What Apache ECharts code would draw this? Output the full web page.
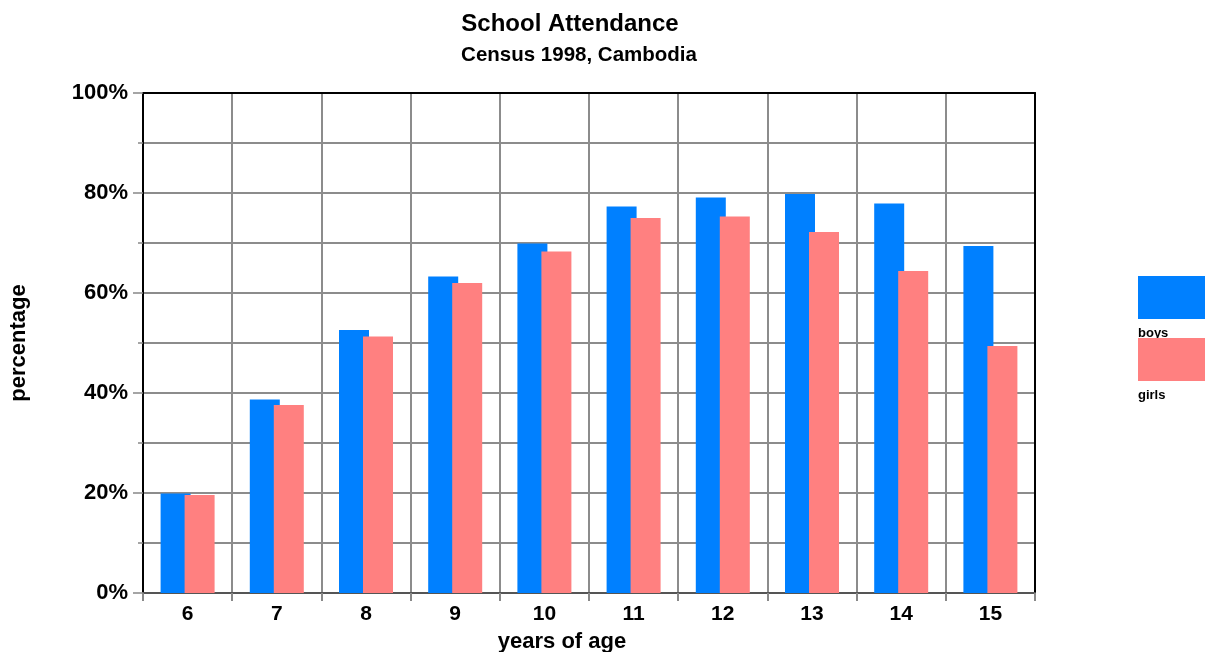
<!DOCTYPE html>
<html>
<head>
<meta charset="utf-8">
<title>School Attendance</title>
<script src="https://cdn.jsdelivr.net/npm/echarts@6/dist/echarts.min.js"></script>
<style>
  html, body { margin: 0; padding: 0; background: #fff; }
  #chart { width: 1208px; height: 652px; }
</style>
</head>
<body>
<div id="chart"></div>
<script>
// Ages surveyed
const ages = ['6', '7', '8', '9', '10', '11', '12', '13', '14', '15'];
// Share of children attending school, in percent
const boys  = [19.9, 38.7, 52.6, 63.3, 69.9, 77.3, 79.1, 79.8, 77.9, 69.4];
const girls = [19.6, 37.6, 51.3, 62.0, 68.3, 75.0, 75.3, 72.2, 64.4, 49.4];
const seriesNames = ['boys', 'girls'];
const seriesColors = ['#0080ff', '#ff8080'];

const FONT = '"Liberation Sans", Arial, sans-serif';
const chart = echarts.init(document.getElementById('chart'), null, { renderer: 'canvas' });

// Legend drawn as swatches with their captions underneath
const legendGraphics = [];
seriesNames.forEach((name, i) => {
  const top = 276 + i * 62;
  legendGraphics.push({
    type: 'rect', left: 1138, top: top,
    shape: { width: 67, height: 43 },
    style: { fill: seriesColors[i] }, z: 10 - i
  });
  legendGraphics.push({
    type: 'text', left: 1138, top: top + 51,
    style: { text: name, fill: '#000', font: 'bold 13px ' + FONT }, z: 5
  });
});

chart.setOption({
  animation: false,
  backgroundColor: '#fff',
  textStyle: { fontFamily: FONT },
  title: [
    { text: 'School Attendance', left: 565, top: 7, textAlign: 'center',
      textStyle: { fontSize: 24, fontWeight: 'bold', color: '#000', fontFamily: FONT } },
    { text: 'Census 1998, Cambodia', left: 574, top: 40, textAlign: 'center',
      textStyle: { fontSize: 20.5, fontWeight: 'bold', color: '#000', fontFamily: FONT } }
  ],
  grid: { left: 143, right: 173, top: 93, bottom: 59, containLabel: false, outerBoundsMode: 'none' },
  xAxis: [
    {
      type: 'category', data: ages, position: 'bottom',
      name: 'years of age', nameLocation: 'middle', nameGap: 38,
      nameTextStyle: { fontSize: 22, fontWeight: 'bold', color: '#000', fontFamily: FONT,
                       padding: [0, 54, 0, 0] },
      axisLine: { lineStyle: { color: '#555', width: 2 } },
      axisTick: { show: true, length: 8, lineStyle: { color: '#888', width: 2 } },
      axisLabel: { fontSize: 21, fontWeight: 'bold', color: '#000', margin: 11, fontFamily: FONT },
      splitLine: { show: true, lineStyle: { color: '#8c8c8c', width: 2 } }
    },
    {
      type: 'category', data: ages, position: 'top',
      axisLine: { show: true, onZero: false, lineStyle: { color: '#000', width: 2 } },
      axisTick: { show: false }, axisLabel: { show: false }, splitLine: { show: false }
    }
  ],
  yAxis: [
    {
      type: 'value', min: 0, max: 100, interval: 20, position: 'left',
      name: 'percentage', nameLocation: 'middle', nameGap: 113, nameRotate: 90,
      nameTextStyle: { fontSize: 22, fontWeight: 'bold', color: '#000', fontFamily: FONT },
      axisLine: { show: true, onZero: false, lineStyle: { color: '#000', width: 2 } },
      axisTick: { show: true, length: 10, lineStyle: { color: '#888', width: 1.5 } },
      minorTick: { show: true, splitNumber: 2, length: 5, lineStyle: { color: '#888', width: 1.5 } },
      axisLabel: { formatter: '{value}%', fontSize: 22, fontWeight: 'bold', color: '#000', margin: 15, fontFamily: FONT },
      splitLine: { show: true, showMaxLine: false, showMinLine: false, lineStyle: { color: '#8c8c8c', width: 2 } },
      minorSplitLine: { show: true, lineStyle: { color: '#8c8c8c', width: 2 } }
    },
    {
      type: 'value', min: 0, max: 100, interval: 20, position: 'right',
      axisLine: { show: true, onZero: false, lineStyle: { color: '#000', width: 2 } },
      axisTick: { show: false }, axisLabel: { show: false }, splitLine: { show: false }
    }
  ],
  series: [
    { name: seriesNames[0], type: 'bar', data: boys, barWidth: 30, barGap: '-20%',
      itemStyle: { color: seriesColors[0] }, z: 2 },
    { name: seriesNames[1], type: 'bar', data: girls, barWidth: 30, barGap: '-20%',
      itemStyle: { color: seriesColors[1] }, z: 3 }
  ],
  graphic: legendGraphics
});
</script>
</body>
</html>
